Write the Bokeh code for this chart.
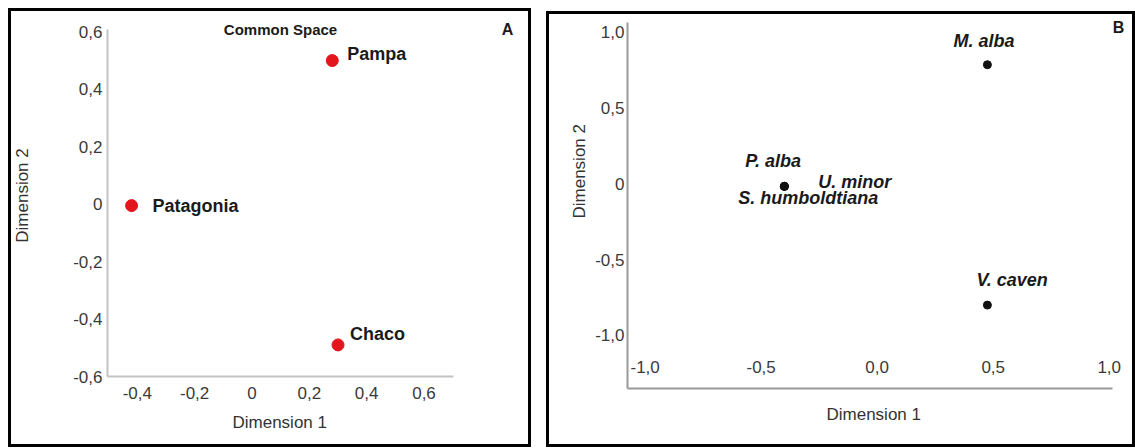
from bokeh.plotting import figure
from bokeh.models import ColumnDataSource, FixedTicker, Range1d, Label, Title
from bokeh.layouts import row
from bokeh.embed import file_html
from bokeh.resources import INLINE
from bokeh.core.properties import value

FONT = "Liberation Sans"

# ---------------- Panel A data (Common Space) ----------------
regions = ["Pampa", "Patagonia", "Chaco"]
region_dim1 = [0.28, -0.42, 0.30]
region_dim2 = [0.50, -0.005, -0.49]
a_xticks = [-0.4, -0.2, 0.0, 0.2, 0.4, 0.6]
a_xtick_labels = ["-0,4", "-0,2", "0", "0,2", "0,4", "0,6"]
a_yticks = [-0.6, -0.4, -0.2, 0.0, 0.2, 0.4, 0.6]
a_ytick_labels = ["-0,6", "-0,4", "-0,2", "0", "0,2", "0,4", "0,6"]

# ---------------- Panel B data (species) ----------------
species = ["M. alba", "P. alba", "U. minor", "S. humboldtiana", "V. caven"]
species_dim1 = [0.475, -0.40, -0.40, -0.40, 0.475]
species_dim2 = [0.785, -0.017, -0.017, -0.017, -0.80]
b_xticks = [-1.0, -0.5, 0.0, 0.5, 1.0]
b_xtick_labels = ["-1,0", "-0,5", "0,0", "0,5", "1,0"]
b_yticks = [-1.0, -0.5, 0.0, 0.5, 1.0]
b_ytick_labels = ["-1,0", "-0,5", "0", "0,5", "1,0"]

# label placement (screen-pixel offsets from each point; layout only)
a_label_dx = [15, 21, 12]
a_label_dy = [-7, 0, -11]
b_label_dx = [-34, -39, 34, -46, -11]
b_label_dy = [-24, -25, -4, 12, -25]

BORDER = {"outline": "3px solid black", "outline-offset": "-3px"}


def style_axis(ax, line_color):
    ax.major_tick_out = 0
    ax.major_tick_in = 0
    ax.minor_tick_out = 0
    ax.minor_tick_in = 0
    ax.axis_line_color = line_color
    ax.axis_line_width = 2
    ax.major_label_text_font = FONT
    ax.major_label_text_font_size = "17px"
    ax.major_label_text_color = "#3a3a3a"
    ax.axis_label_text_font = FONT
    ax.axis_label_text_font_size = "17px"
    ax.axis_label_text_font_style = "normal"
    ax.axis_label_text_color = "#333333"


def style_fig(p, line_color):
    p.grid.visible = False
    p.outline_line_color = None
    p.background_fill_alpha = 0
    p.border_fill_alpha = 0
    p.styles = BORDER
    if "frame_align" in p.properties():
        p.frame_align = False
    for ax in p.axis:
        style_axis(ax, line_color)


def axis_title(text, offset, standoff):
    return Title(text=text, align="left", offset=offset, standoff=standoff,
                 text_font=FONT, text_font_size="17px", text_font_style="normal",
                 text_color="#333333")


# ---------------- Panel A ----------------
# visible axis extents
ax_lo, ax_hi = -0.504, 0.703
ay_lo, ay_hi = -0.6, 0.61
pa = figure(width=523, height=439, margin=(8, 0, 0, 8),
            x_range=Range1d(ax_lo, 0.954), y_range=Range1d(ay_lo, 0.6605),
            output_backend="svg", toolbar_location=None,
            min_border_left=99, min_border_right=6, min_border_top=6, min_border_bottom=71)
style_fig(pa, "#c4c4c4")
pa.xaxis.bounds = (ax_lo, ax_hi)
pa.yaxis.bounds = (ay_lo, ay_hi)
pa.xaxis.ticker = FixedTicker(ticks=a_xticks)
pa.xaxis.major_label_overrides = dict(zip(a_xticks, a_xtick_labels))
pa.yaxis.ticker = FixedTicker(ticks=a_yticks)
pa.yaxis.major_label_overrides = dict(zip(a_yticks, a_ytick_labels))
pa.xaxis.major_label_standoff = 10
pa.yaxis.major_label_standoff = 5
pa.yaxis.axis_label = "Dimension 2"
pa.yaxis.axis_label_standoff = 38
pa.add_layout(axis_title("Dimension 1", 125, 18), "below")

src_a = ColumnDataSource(dict(x=region_dim1, y=region_dim2, name=regions, dx=a_label_dx, dy=a_label_dy))
pa.scatter("x", "y", source=src_a, size=12, color="#e3161e", line_color="#e3161e")
pa.text("x", "y", text="name", source=src_a, x_offset="dx", y_offset="dy",
        text_font=value(FONT), text_font_style="bold", text_font_size="18px",
        text_baseline="middle", text_align="left", text_color="#1a1a1a")

pa.add_layout(Label(x=(ax_lo + ax_hi) / 2, y=ay_hi, text="Common Space", text_font=FONT,
                    text_font_style="bold", text_font_size="15px", text_align="center",
                    text_baseline="middle", text_color="#1a1a1a"))
pa.add_layout(Label(x=ax_hi, y=ay_hi, x_offset=54, text="A", text_font=FONT,
                    text_font_style="bold", text_font_size="16px", text_align="center",
                    text_baseline="middle", text_color="#1a1a1a"))

# ---------------- Panel B ----------------
bx_lo, bx_hi = -1.076, 1.014
by_lo, by_hi = -1.35, 1.064
pb = figure(width=589, height=436, margin=(11, 0, 0, 15),
            x_range=Range1d(bx_lo, 1.096), y_range=Range1d(by_lo, 1.1096),
            output_backend="svg", toolbar_location=None,
            min_border_left=81, min_border_right=4, min_border_top=4, min_border_bottom=59)
style_fig(pb, "#9a9a9a")
pb.xaxis.bounds = (bx_lo, bx_hi)
pb.yaxis.bounds = (by_lo, by_hi)
pb.xaxis.ticker = FixedTicker(ticks=b_xticks)
pb.xaxis.major_label_overrides = dict(zip(b_xticks, b_xtick_labels))
pb.yaxis.ticker = FixedTicker(ticks=b_yticks)
pb.yaxis.major_label_overrides = dict(zip(b_yticks, b_ytick_labels))
pb.xaxis.major_label_standoff = -28
pb.yaxis.major_label_standoff = 3
pb.add_layout(axis_title("Dimension 1", 199, 29), "below")
pb.add_layout(axis_title("Dimension 2", 170, 8), "left")

src_b = ColumnDataSource(dict(x=species_dim1, y=species_dim2, name=species, dx=b_label_dx, dy=b_label_dy))
pb.scatter("x", "y", source=src_b, size=8, color="#111111")
pb.text("x", "y", text="name", source=src_b, x_offset="dx", y_offset="dy",
        text_font=value(FONT), text_font_style="bold italic", text_font_size="18px",
        text_baseline="middle", text_align="left", text_color="#1a1a1a")

pb.add_layout(Label(x=bx_hi, y=by_hi, x_offset=6, y_offset=-5, text="B", text_font=FONT,
                    text_font_style="bold", text_font_size="16px", text_align="center",
                    text_baseline="middle", text_color="#1a1a1a"))

layout = row(pa, pb)
open("out.html", "w").write(file_html(layout, INLINE))
